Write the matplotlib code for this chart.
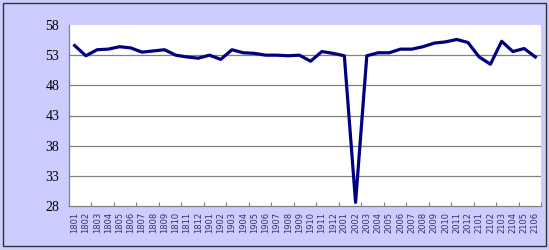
import matplotlib
matplotlib.use("Agg")
import matplotlib.pyplot as plt
from matplotlib.patches import Rectangle

categories = (
    [f"18{m:02d}" for m in range(1, 13)]
    + [f"19{m:02d}" for m in range(1, 13)]
    + [f"20{m:02d}" for m in range(1, 13)]
    + [f"21{m:02d}" for m in range(1, 7)]
)
values = [
    54.6, 52.9, 53.9, 54.0, 54.4, 54.2, 53.5, 53.7, 53.9, 53.0, 52.7, 52.5,
    53.0, 52.3, 53.9, 53.4, 53.3, 53.0, 53.0, 52.9, 53.0, 52.0, 53.6, 53.3,
    52.9, 28.6, 52.9, 53.4, 53.4, 54.0, 54.0, 54.4, 55.0, 55.2, 55.6, 55.1,
    52.7, 51.5, 55.3, 53.6, 54.1, 52.7,
]
yticks = [28, 33, 38, 43, 48, 53, 58]

fig = plt.figure(figsize=(5.49, 2.5), dpi=100)
fig.patch.set_facecolor("#CCCCFF")
fig.patches.append(Rectangle((3/549, 4/250), 543/549, 243/250, transform=fig.transFigure,
                             fill=False, edgecolor="#333333", linewidth=1.0))

ax = fig.add_axes([69/549, 1 - 206/250, (541 - 69)/549, (206 - 25)/250])
ax.set_facecolor("white")
x = list(range(len(categories)))
ax.plot(x, values, color="#000080", linewidth=2.3, solid_joinstyle="round", zorder=3)

ax.set_xlim(-0.5, len(categories) - 0.5)
ax.set_ylim(28, 58)
ax.set_yticks(yticks)
ax.set_yticklabels([str(v) for v in yticks], fontfamily="Liberation Serif", fontsize=10)
ax.tick_params(axis="y", length=0, pad=7)
for v in yticks[1:-1]:
    ax.axhline(v, color="#808080", linewidth=0.9, zorder=1)

ax.set_xticks([i + 1.5 for i in range(0, len(categories) - 1, 2)])
ax.set_xticklabels([])
ax.tick_params(axis="x", which="major", direction="in", length=3, color="#808080", width=0.8)
ax.set_xticks(x, minor=True)
ax.set_xticklabels(categories, minor=True, rotation=90, fontsize=6, color="#333366")
ax.tick_params(axis="x", which="minor", length=0, pad=4)

for side in ["top", "right"]:
    ax.spines[side].set_visible(False)
ax.spines["left"].set_color("#808080")
ax.spines["bottom"].set_color("#808080")
ax.spines["left"].set_linewidth(0.9)
ax.spines["bottom"].set_linewidth(0.9)

fig.savefig("out.png", dpi=100, facecolor=fig.get_facecolor())
